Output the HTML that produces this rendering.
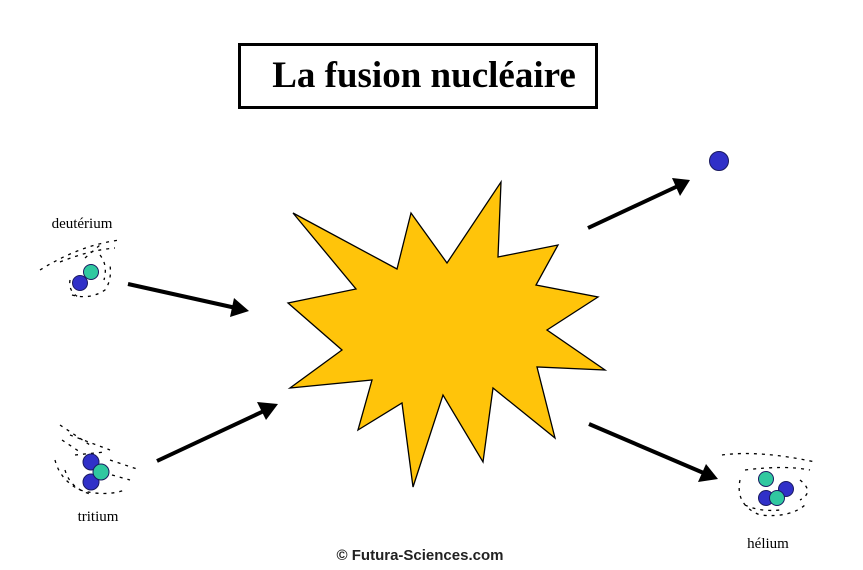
<!DOCTYPE html>
<html><head><meta charset="utf-8"><style>
html,body{margin:0;padding:0;background:#fff;}
svg{display:block;}
</style></head><body>
<svg width="863" height="570" viewBox="0 0 863 570" xmlns="http://www.w3.org/2000/svg">
<rect width="863" height="570" fill="#fff"/>
<rect x="239.5" y="44.5" width="357" height="63" fill="#fff" stroke="#000" stroke-width="3"/>
<text x="424" y="87" text-anchor="middle" font-family="Liberation Serif, serif" font-weight="bold" font-size="37">La fusion nucléaire</text>

<polygon fill="#FFC40A" stroke="#000" stroke-width="1.3" stroke-linejoin="miter" points="293,213 397,269 411,213 447,263 501,182 498,257 558,245 536,285 598,297 547,330 605,370 537,367 555,438 493,388 483,462 443,395 413,487 402,403 358,430 372,380 290,388 342,350 288,303 356,289"/>

<g stroke="#000" stroke-width="4" stroke-linecap="butt">
<line x1="128" y1="284" x2="236" y2="308"/>
<line x1="157" y1="461" x2="266" y2="410"/>
<line x1="588" y1="228" x2="678" y2="186"/>
<line x1="589" y1="424" x2="706" y2="474"/>
</g>
<g fill="#000">
<polygon points="249,311 230,317 234,298"/>
<polygon points="278,404 266,420 257,402"/>
<polygon points="690,180 680,196 672,178"/>
<polygon points="718,479 698,482 706,464"/>
</g>

<circle cx="719" cy="161" r="9.5" fill="#3030C8" stroke="#1a1a60" stroke-width="1"/>

<g fill="none" stroke="#000" stroke-width="1.3" stroke-dasharray="3,5">
<path d="M40,270 Q80,245 120,240 M60,262 Q90,250 115,248 M72,295 Q90,300 105,290 Q112,280 110,265 M70,280 Q68,292 80,298 M100,255 Q108,265 104,280 M85,258 L100,245"/>
<path d="M60,425 L90,445 M70,435 L110,450 M55,460 Q60,480 80,490 Q105,497 125,490 M65,470 Q70,488 90,494 M110,460 L140,470 M112,475 L130,480 M75,455 L105,452 M62,440 L80,452"/>
<path d="M722,455 Q760,450 815,462 M745,470 Q785,465 810,470 M740,480 Q735,505 760,515 Q790,518 805,505 M800,480 Q815,492 800,500 M745,505 Q760,512 780,510"/>
</g>

<circle cx="80" cy="283" r="7.5" fill="#3030C8" stroke="#1a1a60"/>
<circle cx="91" cy="272" r="7.5" fill="#30C8A0" stroke="#1a1a60"/>
<circle cx="91" cy="462" r="8" fill="#3030C8" stroke="#1a1a60"/>
<circle cx="91" cy="482" r="8" fill="#3030C8" stroke="#1a1a60"/>
<circle cx="101" cy="472" r="8" fill="#30C8A0" stroke="#1a1a60"/>
<circle cx="786" cy="489" r="7.5" fill="#3030C8" stroke="#1a1a60"/>
<circle cx="766" cy="498" r="7.5" fill="#3030C8" stroke="#1a1a60"/>
<circle cx="766" cy="479" r="7.5" fill="#30C8A0" stroke="#1a1a60"/>
<circle cx="777" cy="498" r="7.5" fill="#30C8A0" stroke="#1a1a60"/>

<g font-family="Liberation Serif, serif" font-size="15" fill="#000">
<text x="82" y="228" text-anchor="middle">deutérium</text>
<text x="98" y="521" text-anchor="middle">tritium</text>
<text x="768" y="548" text-anchor="middle">hélium</text>
</g>
<text x="420" y="560" text-anchor="middle" font-family="Liberation Sans, sans-serif" font-weight="bold" font-size="15" fill="#222">© Futura-Sciences.com</text>
</svg>
</body></html>
